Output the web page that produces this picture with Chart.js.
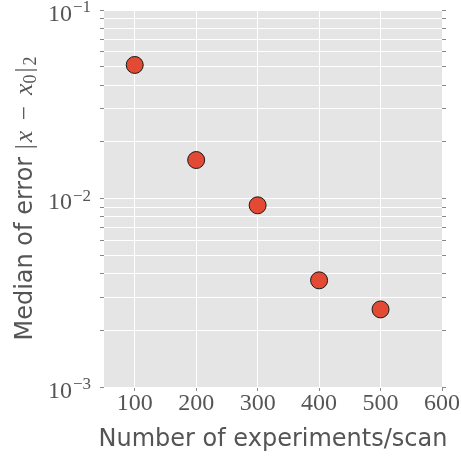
<!DOCTYPE html>
<html><head><meta charset="utf-8">
<script src="https://cdn.jsdelivr.net/npm/chart.js@4"></script>
<style>html,body{margin:0;padding:0;background:#fff;}#wrap{width:461px;height:460px;}</style>
</head><body><div id="wrap"><canvas id="c" width="461" height="460"></canvas></div>
<script>
const experiments = [100, 200, 300, 400, 500];
const medianError = [0.0511, 0.0160, 0.0092, 0.00368, 0.00258];
const xTicks = [100, 200, 300, 400, 500, 600];
const yDecades = [-3, -2, -1];
const xLabel = 'Number of experiments/scan';
const yLabelText = 'Median of error ';
const yLabelMath = ['|', 'x', ' − ', 'x', '0', '|', '2'];

const yTickVals = [];
for (let e = yDecades[0]; e < yDecades[yDecades.length-1]; e++) {
  for (let m = 1; m < 10; m++) yTickVals.push(m * Math.pow(10, e));
}
yTickVals.push(Math.pow(10, yDecades[yDecades.length-1]));

const TXT = '#555555';
const SERIF = '"Liberation Serif", "DejaVu Serif", serif';
const SANS = '"DejaVu Sans", sans-serif';

const drawPlugin = {
  id: 'decor',
  beforeDraw(chart) {
    const {ctx, chartArea: a} = chart;
    ctx.save(); ctx.fillStyle = '#E5E5E5';
    ctx.fillRect(a.left, a.top, a.right - a.left, a.bottom - a.top);
    ctx.restore();
  },
  afterDraw(chart) {
    const {ctx, chartArea: a} = chart;
    const ys = chart.scales.y;
    ctx.save();
    ctx.fillStyle = TXT;
    ctx.textBaseline = 'alphabetic';
    ctx.textAlign = 'left';
    yDecades.forEach(e => {
      const py = ys.getPixelForValue(Math.pow(10, e));
      const base = '10', exp = '−' + Math.abs(e);
      ctx.font = '24px ' + SERIF;
      const wb = ctx.measureText(base).width;
      ctx.font = '17px ' + SERIF;
      const we = ctx.measureText(exp).width;
      const right = a.left - 13;
      const x0 = right - we - wb - 1;
      ctx.font = '24px ' + SERIF;
      ctx.fillText(base, x0, py + 10.5);
      ctx.font = '17px ' + SERIF;
      ctx.fillText(exp, x0 + wb + 1, py + 2);
    });
    ctx.restore();

    ctx.save();
    ctx.fillStyle = TXT;
    ctx.font = '24px ' + SANS;
    ctx.textAlign = 'center';
    ctx.textBaseline = 'alphabetic';
    ctx.fillText(xLabel, (a.left + a.right) / 2, 446);
    ctx.restore();

    const cy = (a.top + a.bottom) / 2;
    ctx.save();
    ctx.translate(32, cy);
    ctx.rotate(-Math.PI / 2);
    ctx.fillStyle = TXT;
    ctx.textBaseline = 'alphabetic';
    ctx.textAlign = 'left';
    const sans = '24px ' + SANS;
    const ser = '25px ' + SERIF;
    const serIt = 'italic 26px ' + SERIF;
    const small = '18px ' + SERIF;
    const parts = [
      [yLabelText, sans, 0, 0],
      [yLabelMath[0], ser, 0, 2],
      [yLabelMath[1], serIt, 0, 4],
      [yLabelMath[2], ser, 0, 5],
      [yLabelMath[3], serIt, 0, 0],
      [yLabelMath[4], small, 4, 2],
      [yLabelMath[5], ser, 0, 2],
      [yLabelMath[6], small, 4, 0]
    ];
    let total = 0;
    parts.forEach(p => { ctx.font = p[1]; p.push(ctx.measureText(p[0]).width + p[3]); total += p[4]; });
    let x = -total / 2;
    parts.forEach(p => { ctx.font = p[1]; ctx.fillText(p[0], x, p[2]); x += p[4]; });
    ctx.restore();
  }
};

const yCommon = (pos) => ({
  type: 'logarithmic',
  position: pos,
  min: yTickVals[0],
  max: yTickVals[yTickVals.length - 1],
  border: {display: false},
  grid: {display: true, drawOnChartArea: pos === 'left', color: '#FFFFFF', lineWidth: 1, drawTicks: true, tickLength: 4, tickColor: '#888888'},
  afterBuildTicks(s) { s.ticks = yTickVals.map(v => ({value: v})); },
  ticks: {
    autoSkip: false, padding: 8, color: TXT,
    font: {family: SERIF, size: 24, lineHeight: 1},
    callback() { return ''; }
  },
  afterFit(s) { s.width = pos === 'left' ? 104 : 19; s.paddingTop = 0; s.paddingBottom = 0; }
});

new Chart(document.getElementById('c'), {
  type: 'scatter',
  data: {
    datasets: [{
      data: experiments.map((x, i) => ({x: x, y: medianError[i]})),
      backgroundColor: '#E24A33',
      borderColor: '#1a1a1a',
      borderWidth: 1,
      pointRadius: 8.5,
      pointHoverRadius: 8.5
    }]
  },
  plugins: [drawPlugin],
  options: {
    responsive: false,
    animation: false,
    devicePixelRatio: 1,
    layout: {padding: {top: 10, left: 0, right: 0, bottom: 0}},
    plugins: {legend: {display: false}, tooltip: {enabled: false}},
    scales: {
      x: {
        type: 'linear', position: 'bottom', min: 50, max: 600,
        border: {display: false},
        grid: {color: '#FFFFFF', lineWidth: 1, drawTicks: true, tickLength: 4, tickColor: '#888888'},
        afterBuildTicks(s) { s.ticks = xTicks.map(v => ({value: v})); },
        ticks: {autoSkip: false, maxRotation: 0, padding: 1, color: TXT,
          font: {family: SERIF, size: 24, lineHeight: 1}},
        title: {display: false, text: xLabel},
        afterFit(s) { s.height = 73; s.paddingLeft = 0; s.paddingRight = 0; }
      },
      y: yCommon('left'),
      y2: yCommon('right')
    }
  }
});
</script>
</body></html>
